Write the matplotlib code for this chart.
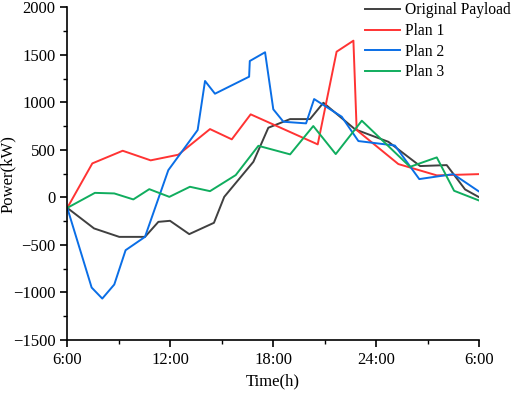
import numpy as np
import matplotlib
matplotlib.use('Agg')
import matplotlib.pyplot as plt
from matplotlib.ticker import MultipleLocator

plt.rcParams['font.family'] = ['Liberation Serif', 'DejaVu Serif']

# Data (hour of day, power in kW)
orig_t = [6.0, 7.56, 9.03, 10.53, 11.31, 11.99, 13.11, 14.55, 15.15, 16.85, 17.72,
          18.99, 20.15, 20.93, 21.9, 22.78, 24.72, 26.57, 28.12, 29.19, 29.97]
orig_p = [-110, -326, -415, -415, -257, -246, -386, -267, 6, 375, 733,
          824, 824, 996, 849, 716, 585, 330, 340, 84, 6]

plan1_t = [6.0, 7.46, 9.23, 10.86, 12.47, 14.32, 15.59, 16.69, 20.6, 21.7, 22.68,
           22.87, 25.3, 27.54, 29.97]
plan1_p = [-110, 358, 491, 390, 449, 719, 611, 874, 558, 1533, 1649,
           709, 351, 232, 245]

plan2_t = [6.0, 7.42, 8.04, 8.74, 9.4, 10.53, 11.89, 13.6, 14.03, 14.61, 16.6,
           16.64, 17.53, 18.01, 18.6, 19.92, 20.39, 22.0, 22.97, 25.1, 26.52,
           28.5, 29.97]
plan2_p = [-110, -948, -1064, -916, -555, -415, 287, 709, 1225, 1091, 1270,
           1435, 1527, 927, 796, 779, 1035, 849, 593, 546, 193,
           245, 66]

plan3_t = [6.0, 7.61, 8.74, 9.85, 10.78, 11.95, 13.15, 14.32, 15.82, 17.14, 18.99,
           20.34, 21.65, 23.17, 25.98, 27.54, 28.55, 29.97]
plan3_p = [-110, 48, 42, -21, 87, 6, 112, 66, 235, 543, 453,
           751, 456, 807, 322, 421, 70, -30]

xticks = [6, 12, 18, 24, 30]
xtick_labels = ['6:00', '12:00', '18:00', '24:00', '6:00']

fig = plt.figure(figsize=(5.12, 3.95), dpi=100)
ax = fig.add_axes([0.1314, 0.1392, 0.8041, 0.8423])

lw = 1.4
ax.plot(orig_t, orig_p, color='#404040', lw=lw, label='Original Payload')
ax.plot(plan1_t, plan1_p, color='#ff3333', lw=lw, label='Plan 1')
ax.plot(plan2_t, plan2_p, color='#0a6ee6', lw=lw, label='Plan 2')
ax.plot(plan3_t, plan3_p, color='#10ad5e', lw=lw, label='Plan 3')

ax.set_xlim(6, 30)
ax.set_ylim(-1500, 2000)
ax.set_xticks(xticks)
ax.set_xticklabels(xtick_labels)
ax.xaxis.set_minor_locator(MultipleLocator(3))
ax.yaxis.set_major_locator(MultipleLocator(500))
ax.yaxis.set_minor_locator(MultipleLocator(250))

for s in ['top', 'right']:
    ax.spines[s].set_visible(False)
for s in ['left', 'bottom']:
    ax.spines[s].set_linewidth(1.2)
ax.tick_params(which='major', length=5, width=1.2, labelsize=12)
ax.tick_params(which='minor', length=3, width=1.0)

ax.set_xlabel('Time(h)', fontsize=12)
ax.set_ylabel('Power(kW)', fontsize=12)
ax.yaxis.set_label_coords(-0.125, 0.5)

ax.legend(loc='upper left', frameon=False, fontsize=11.2, handlelength=2.25,
          borderaxespad=0.0, borderpad=0.0, labelspacing=0.3, handletextpad=0.3,
          bbox_to_anchor=(0.723, 1.015))

fig.patch.set_facecolor('white')
fig.savefig('out.png', dpi=100)
